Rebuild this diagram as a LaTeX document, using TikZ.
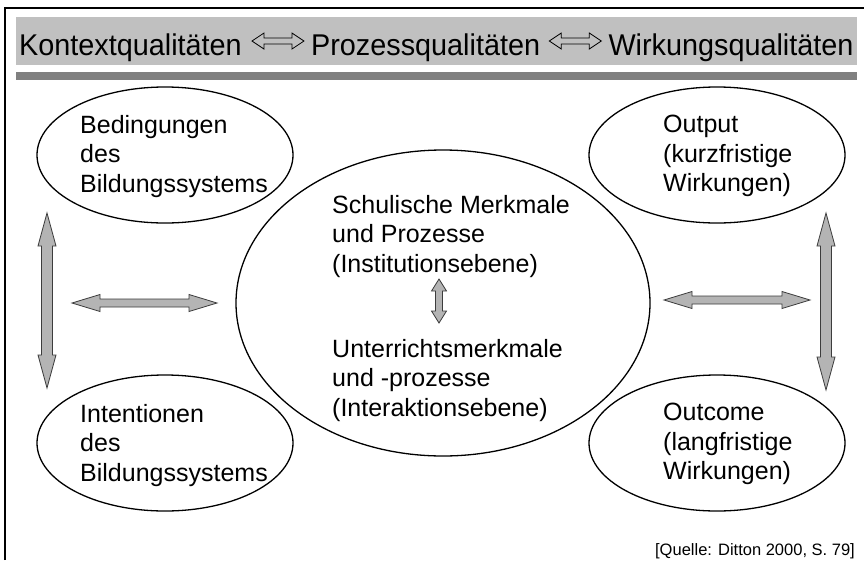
\documentclass[tikz,border=0pt]{standalone}
\usepackage{fontspec}
\setmainfont{Liberation Sans}
\usetikzlibrary{calc,shapes.geometric}
\definecolor{bandlight}{RGB}{192,192,192}
\definecolor{bardark}{RGB}{128,128,128}
\definecolor{arrowfill}{RGB}{180,180,180}
\definecolor{arrowline}{RGB}{60,60,60}
% horizontal double block arrow: #1 style, #2 left tip, #3 right tip, #4 head length, #5 head half width, #6 shaft half width
\newcommand\HBlockArrow[6]{%
  \path[#1] (#2) -- ($(#2)+(#4,-#5)$) -- ($(#2)+(#4,-#6)$) -- ($(#3)+(-#4,-#6)$) -- ($(#3)+(-#4,-#5)$) -- (#3)
    -- ($(#3)+(-#4,#5)$) -- ($(#3)+(-#4,#6)$) -- ($(#2)+(#4,#6)$) -- ($(#2)+(#4,#5)$) -- cycle;}
% vertical double block arrow: #2 top tip, #3 bottom tip
\newcommand\VBlockArrow[6]{%
  \path[#1] (#2) -- ($(#2)+(#5,#4)$) -- ($(#2)+(#6,#4)$) -- ($(#3)+(#6,-#4)$) -- ($(#3)+(#5,-#4)$) -- (#3)
    -- ($(#3)+(-#5,-#4)$) -- ($(#3)+(-#6,-#4)$) -- ($(#2)+(-#6,#4)$) -- ($(#2)+(-#5,#4)$) -- cycle;}
\newcommand\HdrText[1]{\scalebox{0.96}[1]{#1}}
\tikzset{
  ell/.style={draw=black, line width=1.3pt, ellipse, inner sep=0pt},
  etext/.style={align=left, inner sep=0pt, anchor=north west, font=\fontsize{25}{29.5}\selectfont},
  hdr/.style={inner sep=0pt, anchor=base west, font=\fontsize{30}{34}\selectfont},
  blockarrow/.style={fill=arrowfill, draw=arrowline, line width=0.8pt, line join=miter},
  hollowarrow/.style={draw=black, line width=0.8pt, line join=miter},
}
\begin{document}
\begin{tikzpicture}[x=1pt, y=-1pt]
\useasboundingbox (0,0) rectangle (864,560);
\fill[white] (0,0) rectangle (864,560);
% frame
\draw[line width=2pt] (5,560) -- (5,8) -- (864,8);
% header band and bar
\fill[bandlight] (16,17) rectangle (857,65);
\fill[bardark] (16,72) rectangle (857,80);
% header text
\node[hdr] (k) at (19,55) {\HdrText{Kontextqualitäten}};
\coordinate (h1l) at ($(k.base east)+(10,-14)$);
\coordinate (h1r) at ($(h1l)+(52,0)$);
\node[hdr] (p) at ($(k.base east)+(69,0)$) {\HdrText{Prozessqualitäten}};
\coordinate (h2l) at ($(p.base east)+(9,-14)$);
\coordinate (h2r) at ($(h2l)+(52,0)$);
\node[hdr] (w) at ($(p.base east)+(68,0)$) {\HdrText{Wirkungsqualitäten}};
\HBlockArrow{hollowarrow}{h1l}{h1r}{12}{8}{3}
\HBlockArrow{hollowarrow}{h2l}{h2r}{12}{8}{3}
% ellipses
\node[ell, minimum width=256pt, minimum height=136pt] (bed) at (165,155) {};
\node[ell, minimum width=256pt, minimum height=136pt] (int) at (165,443) {};
\node[ell, minimum width=256pt, minimum height=136pt] (out) at (717,155) {};
\node[ell, minimum width=256pt, minimum height=136pt] (outc) at (717,443) {};
\node[ell, minimum width=414pt, minimum height=306pt] (sch) at (443,303) {};
% ellipse texts
\node[etext] (bedt) at (80,115) {Bedingungen\\des\\Bildungssystems};
\node[etext] (intt) at (80,404) {Intentionen\\des\\Bildungssystems};
\node[etext] (outt) at (663,115) {Output\\(kurzfristige\\Wirkungen)};
\node[etext] (outct) at (663,403) {Outcome\\(langfristige\\Wirkungen)};
\node[etext] (scht) at (332,195) {Schulische Merkmale\\und Prozesse\\(Institutionsebene)};
\node[etext] (untt) at (332,339) {Unterrichtsmerkmale\\und -prozesse\\(Interaktionsebene)};
% block arrows
\coordinate (lvt) at (47,213);
\coordinate (lvb) at (47,388);
\coordinate (rvt) at (826,213);
\coordinate (rvb) at (826,390);
\coordinate (lhl) at (72,303);
\coordinate (lhr) at (217,303);
\coordinate (rhl) at (664,300);
\coordinate (rhr) at (810,300);
\coordinate (cvt) at (439,279);
\coordinate (cvb) at (439,323);
\VBlockArrow{blockarrow}{lvt}{lvb}{33}{9}{5.5}
\VBlockArrow{blockarrow}{rvt}{rvb}{33}{9}{5.5}
\HBlockArrow{blockarrow}{lhl}{lhr}{28}{8.5}{4}
\HBlockArrow{blockarrow}{rhl}{rhr}{28}{8.5}{4}
\VBlockArrow{blockarrow}{cvt}{cvb}{12}{7.5}{3.5}
% source
\node[inner sep=0pt, anchor=base east, font=\fontsize{16.5}{19}\selectfont] (src) at (855,555) {[Quelle: Ditton 2000, S. 79]};
\end{tikzpicture}
\end{document}
